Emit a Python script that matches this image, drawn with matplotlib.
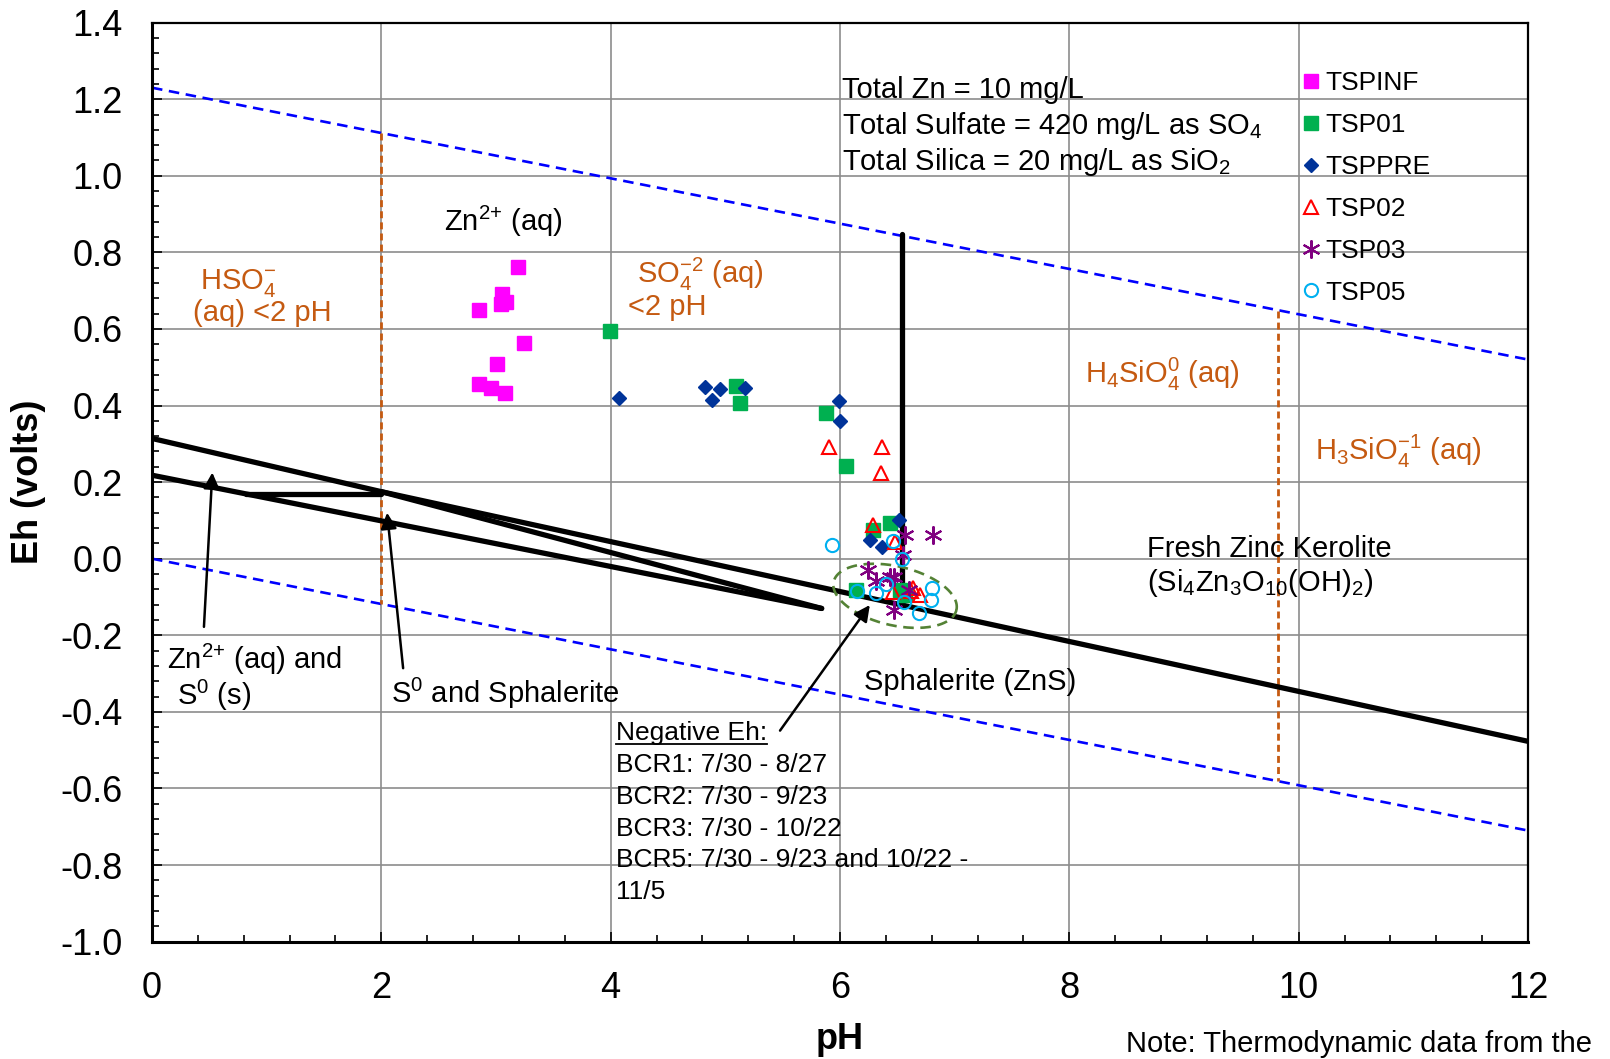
import numpy as np
import matplotlib
matplotlib.use("Agg")
import matplotlib.pyplot as plt
from matplotlib.ticker import MultipleLocator, FormatStrFormatter

plt.rcParams['font.family'] = ['Liberation Sans', 'DejaVu Sans']
plt.rcParams['mathtext.fontset'] = 'custom'
plt.rcParams['mathtext.rm'] = 'Liberation Sans'
plt.rcParams['mathtext.it'] = 'Liberation Sans:italic'
plt.rcParams['mathtext.bf'] = 'Liberation Sans:bold'

# sample data
tspinf_ph = [3.19, 3.055, 3.09, 3.04, 2.85, 3.24, 3.01, 2.85, 2.96, 3.08]
tspinf_eh = [0.761, 0.691, 0.670, 0.665, 0.650, 0.563, 0.509, 0.455, 0.446, 0.433]

tsp01_ph = [3.99, 5.09, 5.125, 5.875, 6.05, 6.29, 6.436, 6.14, 6.52, 6.57]
tsp01_eh = [0.594, 0.452, 0.407, 0.381, 0.242, 0.074, 0.093, -0.083, -0.083, -0.096]

tsppre_ph = [4.07, 4.82, 4.95, 4.88, 5.17, 5.99, 6.0, 6.517, 6.26, 6.37]
tsppre_eh = [0.420, 0.449, 0.443, 0.415, 0.445, 0.411, 0.359, 0.102, 0.048, 0.030]

tsp02_ph = [5.90, 6.37, 6.36, 6.29, 6.48, 6.465, 6.64, 6.70, 6.62]
tsp02_eh = [0.291, 0.291, 0.224, 0.087, 0.043, -0.087, -0.076, -0.096, -0.085]

tsp03_ph = [6.57, 6.81, 6.55, 6.24, 6.31, 6.44, 6.47, 6.60, 6.47]
tsp03_eh = [0.061, 0.063, 0.009, -0.030, -0.057, -0.048, -0.048, -0.083, -0.135]

tsp05_ph = [5.93, 6.46, 6.54, 6.31, 6.40, 6.145, 6.80, 6.79, 6.56, 6.69]
tsp05_eh = [0.037, 0.045, 0.0, -0.090, -0.067, -0.085, -0.076, -0.107, -0.113, -0.142]

# stability field boundaries
water_top_ph = [0, 12]
water_top_eh = [1.23, 0.52]
water_bot_ph = [0, 12]
water_bot_eh = [0.0, -0.71]

zn_a_ph = [0, 2, 12]
zn_a_eh = [0.314, 0.175, -0.477]
zn_b_ph = [0, 5.84]
zn_b_eh = [0.218, -0.13]
zn_c_ph = [2, 5.84]
zn_c_eh = [0.175, -0.13]
zn_h_ph = [0.82, 2]
zn_h_eh = [0.17, 0.17]
zn_v_ph = [6.545, 6.545]
zn_v_eh = [0.848, -0.12]

hso4_ph = [2, 2]
hso4_eh = [1.112, -0.118]
silica_ph = [9.82, 9.82]
silica_eh = [0.648, -0.581]

bcr_lines = ["BCR1: 7/30 - 8/27",
	"BCR2: 7/30 - 9/23",
	"BCR3: 7/30 - 10/22",
	"BCR5: 7/30 - 9/23 and 10/22 -",
	"11/5"]

ORANGE = '#C55A11'


def draw_lines(ax):
	dash_blue = dict(color='#0000FF', lw=1.9, dashes=(4, 2.5))
	ax.plot(water_top_ph, water_top_eh, **dash_blue)
	ax.plot(water_bot_ph, water_bot_eh, **dash_blue)
	dash_or = dict(color=ORANGE, lw=2.0, dashes=(2.5, 1.5))
	ax.plot(hso4_ph, hso4_eh, **dash_or)
	ax.plot(silica_ph, silica_eh, **dash_or)
	for xs, ys in [(zn_a_ph, zn_a_eh), (zn_b_ph, zn_b_eh), (zn_c_ph, zn_c_eh),
				(zn_h_ph, zn_h_eh), (zn_v_ph, zn_v_eh)]:
		ax.plot(xs, ys, color='black', lw=3.8, solid_capstyle='round')


def draw_points(ax):
	ax.plot(tspinf_ph, tspinf_eh, ls='none', marker='s', ms=10, color='#FF00FF', mec='#FF00FF', label='TSPINF')
	ax.plot(tsp01_ph, tsp01_eh, ls='none', marker='s', ms=10, color='#00B050', mec='#00B050', label='TSP01')
	ax.plot(tsppre_ph, tsppre_eh, ls='none', marker='D', ms=7.5, color='#003399', mec='#003399', label='TSPPRE')
	ax.plot(tsp02_ph, tsp02_eh, ls='none', marker='^', ms=10, mfc='none', mec='#FF0000', mew=1.5, label='TSP02')
	ax.plot(tsp03_ph, tsp03_eh, ls='none', marker=(6, 2, 0), ms=13, color='#800080', mec='#800080', mew=1.5, label='TSP03')
	ax.plot(tsp05_ph, tsp05_eh, ls='none', marker='o', ms=9.5, mfc='none', mec='#00B0F0', mew=1.5, label='TSP05')


def draw_ellipse(ax):
	# dashed ellipse drawn in screen pixels then mapped to data units
	px_ph = 1376 / 12.0
	px_eh = 919 / 2.4
	cx, cy = 6.48, -0.097
	a, b, th = 63, 29.5, np.radians(-13)
	t = np.linspace(0, 2 * np.pi, 200)
	xd = a * np.cos(t) * np.cos(th) - b * np.sin(t) * np.sin(th)
	yd = a * np.cos(t) * np.sin(th) + b * np.sin(t) * np.cos(th)
	ax.plot(cx + xd / px_ph, cy + yd / px_eh, color='#548235', lw=1.9, dashes=(4, 2.5))


def draw_text(ax):
	fs = 21
	ax.text(6.02, 1.223, 'Total Zn = 10 mg/L', fontsize=fs, va='center')
	ax.text(6.02, 1.131, 'Total Sulfate = 420 mg/L as SO$_4$', fontsize=fs, va='center')
	ax.text(6.02, 1.037, 'Total Silica = 20 mg/L as SiO$_2$', fontsize=fs, va='center')

	ax.text(2.55, 0.882, 'Zn$^{2{+}}$ (aq)', fontsize=fs, va='center')
	ax.text(0.42, 0.72, 'HSO$_4^{\\mathregular{-}}$', fontsize=fs, va='center', color=ORANGE)
	ax.text(0.358, 0.641, '(aq) <2 pH', fontsize=fs, va='center', color=ORANGE)
	ax.text(4.226, 0.743, 'SO$_4^{\\mathregular{-2}}$ (aq)', fontsize=fs, va='center', color=ORANGE)
	ax.text(4.155, 0.657, '<2 pH', fontsize=fs, va='center', color=ORANGE)
	ax.text(8.14, 0.48, 'H$_4$SiO$_4^0$ (aq)', fontsize=fs, va='center', color=ORANGE)
	ax.text(10.145, 0.279, 'H$_3$SiO$_4^{\\mathregular{-1}}$ (aq)', fontsize=fs, va='center', color=ORANGE)
	ax.text(8.677, 0.024, 'Fresh Zinc Kerolite', fontsize=fs, va='center')
	ax.text(8.677, -0.064, '(Si$_4$Zn$_3$O$_{10}$(OH)$_2$)', fontsize=fs, va='center')
	ax.text(6.21, -0.322, 'Sphalerite (ZnS)', fontsize=fs, va='center')
	ax.text(0.134, -0.263, 'Zn$^{2{+}}$ (aq) and', fontsize=fs, va='center')
	ax.text(0.214, -0.356, 'S$^0$ (s)', fontsize=fs, va='center')
	ax.text(2.086, -0.351, 'S$^0$ and Sphalerite', fontsize=fs, va='center')

	neg = ax.text(4.047, -0.456, 'Negative Eh:', fontsize=19, va='center')
	for i, line in enumerate(bcr_lines):
		ax.text(4.047, -0.539 - i * 0.083, line, fontsize=19, va='center')
	return neg


def draw_arrows(ax):
	style = dict(arrowstyle='-|>', lw=1.8, color='black', mutation_scale=24, shrinkA=0, shrinkB=0)
	ax.annotate('', xy=(0.526, 0.225), xytext=(0.453, -0.178), arrowprops=style)
	ax.annotate('', xy=(2.05, 0.12), xytext=(2.19, -0.286), arrowprops=style)
	ax.annotate('', xy=(6.26, -0.121), xytext=(5.477, -0.449), arrowprops=style)


def main():
	fig = plt.figure(figsize=(16.1, 10.59), dpi=100)
	ax = fig.add_axes([152 / 1610, 1 - 941.6 / 1059, 1376 / 1610, 919 / 1059])

	ax.set_xlim(0, 12)
	ax.set_ylim(-1.0, 1.4)
	ax.xaxis.set_major_locator(MultipleLocator(2))
	ax.xaxis.set_minor_locator(MultipleLocator(0.4))
	ax.yaxis.set_major_locator(MultipleLocator(0.2))
	ax.yaxis.set_minor_locator(MultipleLocator(0.04))
	ax.yaxis.set_major_formatter(FormatStrFormatter('%.1f'))
	ax.tick_params(which='both', direction='in', top=False, right=False, width=1.2, color='black')
	ax.tick_params(which='major', length=7, labelsize=26, pad=21)
	ax.tick_params(which='minor', length=5)
	ax.grid(True, which='major', color='#8C8C8C', lw=1.2)
	ax.set_axisbelow(True)
	for side in ['left', 'bottom']:
		ax.spines[side].set_linewidth(2.2)
	for side in ['top', 'right']:
		ax.spines[side].set_linewidth(1.6)

	draw_lines(ax)
	draw_ellipse(ax)
	draw_points(ax)
	neg = draw_text(ax)
	draw_arrows(ax)

	ax.set_xlabel('pH', fontsize=26, fontweight='bold')
	ax.xaxis.label.set_va('center')
	ax.xaxis.set_label_coords(0.5, -0.106)
	ax.set_ylabel('Eh (volts)', fontsize=26, fontweight='bold')
	ax.yaxis.label.set_va('center')
	ax.yaxis.set_label_coords(-0.0894, 0.5)

	ax.legend(loc='upper left', bbox_to_anchor=(1304 / 1610, 1 - 71 / 1059), bbox_transform=fig.transFigure,
			frameon=False, fontsize=19, handlelength=0.5, handletextpad=0.3, labelspacing=0.68,
			borderpad=0, borderaxespad=0, markerscale=1.0)

	fig.text(1126 / 1610, 1 - 1044 / 1059, 'Note: Thermodynamic data from the', fontsize=21, va='center')

	# underline the "Negative Eh:" heading
	fig.canvas.draw()
	bb = neg.get_window_extent().transformed(ax.transData.inverted())
	ax.plot([bb.x0, bb.x1], [bb.y0 + 0.004, bb.y0 + 0.004], color='black', lw=1.3)

	fig.savefig('out.png', dpi=100)


if __name__ == "__main__":
	main()
